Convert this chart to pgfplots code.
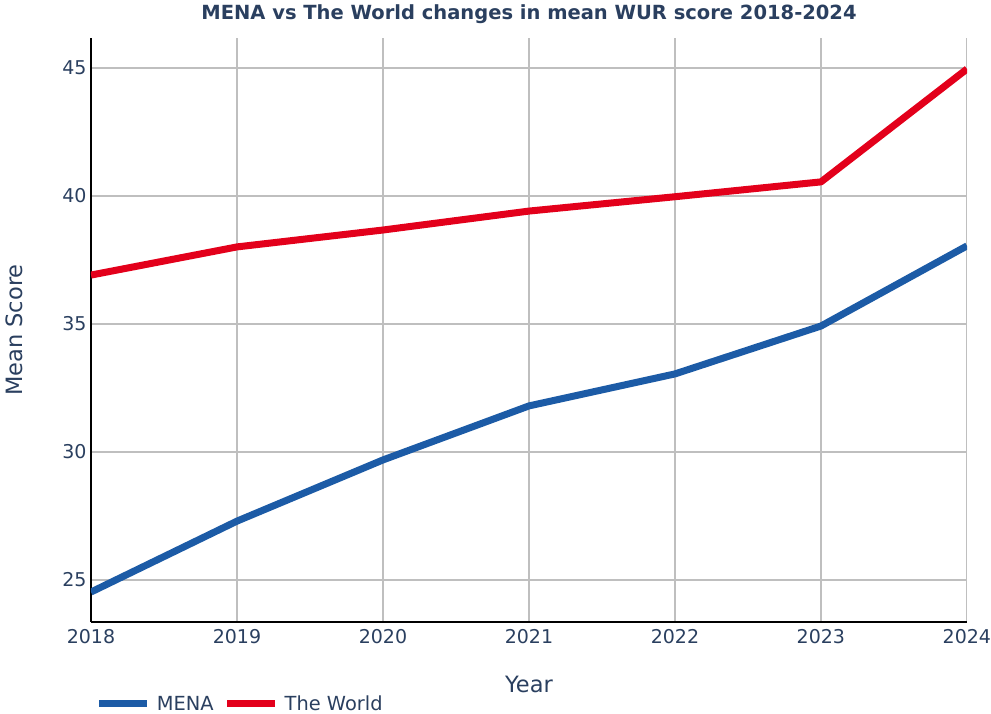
\documentclass[border=0pt]{standalone}
\usepackage{pgfplots}
\pgfplotsset{compat=1.18}
\usepackage{fontspec}
\setmainfont{DejaVu Sans}
\definecolor{txt}{HTML}{2A3F5F}
\definecolor{mena}{HTML}{1C5BA6}
\definecolor{world}{HTML}{E3001B}
\definecolor{gridc}{HTML}{BFBFBF}
\begin{document}
\begin{tikzpicture}[x=1pt,y=1pt]
\useasboundingbox (-91,-92) rectangle (900,622);
\begin{axis}[
  at={(0,0)}, anchor=south west,
  scale only axis, width=876pt, height=584pt,
  xmin=2018, xmax=2024, ymin=23.36, ymax=46.17,
  xtick={2018,...,2024}, ytick={25,30,35,40,45},
  /pgf/number format/assume math mode=true,
  /pgf/number format/1000 sep={},
  tick label style={font=\fontsize{19}{22}\selectfont, text=txt},
  xticklabel style={yshift=-4pt},
  yticklabel style={xshift=-1pt},
  axis x line*=bottom, axis y line*=left,
  axis line style={black, line width=1.2pt, -},
  tick style={draw=none},
  grid=major, major grid style={gridc, line width=1.2pt},
  xlabel={Year}, ylabel={Mean Score},
  label style={font=\fontsize{22.5}{26}\selectfont, text=txt},
  xlabel style={at={(axis description cs:0.5,0)}, anchor=center, yshift=-62pt},
  ylabel style={at={(axis description cs:0,0.5)}, anchor=center, yshift=77pt},
  title={\textbf{MENA vs The World changes in mean WUR score 2018-2024}},
  title style={font=\fontsize{19.5}{22}\selectfont, text=txt, at={(axis description cs:0.5,1)}, anchor=center, yshift=18pt},
  legend columns=2,
  legend style={at={(0.002,-0.14)}, anchor=west, draw=none, fill=none,
    font=\fontsize{19.4}{22}\selectfont, text=txt,
    /tikz/every even column/.append style={column sep=8pt}},
  legend image code/.code={\draw[#1] (0pt,0pt) -- (48pt,0pt); \path (52pt,0pt);},
  clip=true,
]
\addplot[mena, line width=7pt, line join=round] coordinates {
(2018,24.53) (2019,27.30) (2020,29.69) (2021,31.80) (2022,33.05) (2023,34.92) (2024,38.05)};
\addlegendentry{MENA}
\addplot[world, line width=7pt, line join=round] coordinates {
(2018,36.91) (2019,38.01) (2020,38.67) (2021,39.41) (2022,39.97) (2023,40.55) (2024,44.96)};
\addlegendentry{The World}
\end{axis}
\end{tikzpicture}
\end{document}
